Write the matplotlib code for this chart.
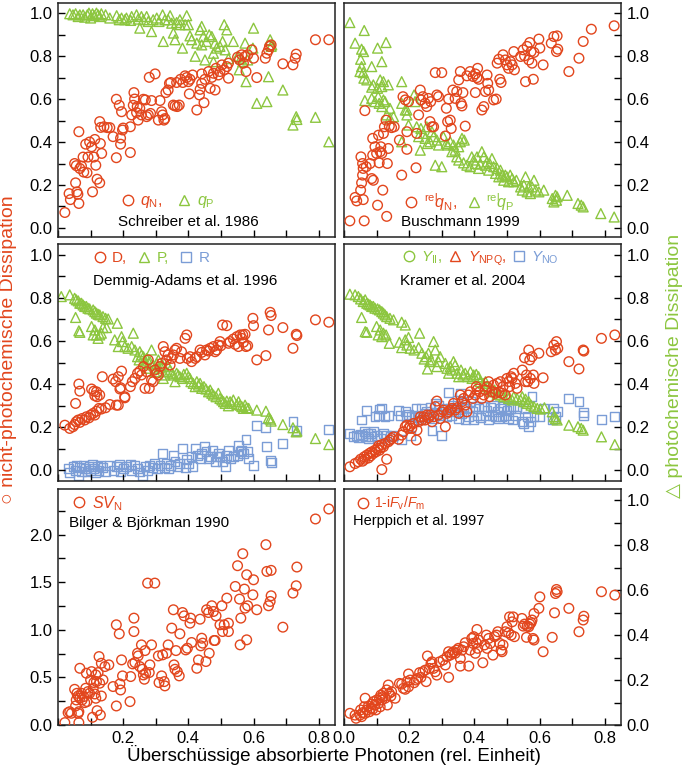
import numpy as np
import matplotlib
matplotlib.use("Agg")
import matplotlib.pyplot as plt
from matplotlib.lines import Line2D
from matplotlib.ticker import MultipleLocator

# ------------------------------------------------------------------
# Data (x = excess absorbed photons, rel. units)
# ------------------------------------------------------------------
schreiber_qn = np.array([
    (0.021, 0.072), (0.034, 0.16), (0.038, 0.132), (0.051, 0.30), (0.054, 0.21), (0.058, 0.168),
    (0.061, 0.157), (0.064, 0.114), (0.056, 0.29), (0.067, 0.277), (0.064, 0.448), (0.072, 0.288),
    (0.077, 0.33), (0.079, 0.26), (0.089, 0.257), (0.085, 0.39), (0.092, 0.33), (0.097, 0.40),
    (0.103, 0.378), (0.106, 0.168), (0.11, 0.33), (0.113, 0.412), (0.116, 0.292), (0.12, 0.227),
    (0.128, 0.21), (0.128, 0.495), (0.131, 0.468), (0.134, 0.347), (0.13, 0.393), (0.141, 0.471),
    (0.151, 0.467), (0.159, 0.467), (0.169, 0.425), (0.179, 0.327), (0.179, 0.599), (0.188, 0.571),
    (0.192, 0.418), (0.192, 0.39), (0.195, 0.541), (0.198, 0.456), (0.2, 0.465), (0.222, 0.471),
    (0.222, 0.351), (0.226, 0.526), (0.231, 0.571), (0.233, 0.63), (0.235, 0.60), (0.241, 0.537),
    (0.243, 0.565), (0.246, 0.502), (0.251, 0.557), (0.256, 0.526), (0.262, 0.599), (0.268, 0.596),
    (0.272, 0.518), (0.277, 0.526), (0.28, 0.701), (0.284, 0.533), (0.287, 0.593), (0.298, 0.717),
    (0.308, 0.502), (0.313, 0.593), (0.318, 0.541), (0.321, 0.526), (0.325, 0.502), (0.328, 0.509),
    (0.331, 0.63), (0.338, 0.642), (0.342, 0.673), (0.346, 0.677), (0.354, 0.572), (0.359, 0.568),
    (0.364, 0.677), (0.366, 0.565), (0.372, 0.572), (0.376, 0.692), (0.383, 0.677), (0.39, 0.708),
    (0.395, 0.70), (0.40, 0.681), (0.403, 0.624), (0.405, 0.692), (0.413, 0.712), (0.426, 0.549),
    (0.434, 0.619), (0.436, 0.645), (0.441, 0.673), (0.441, 0.717), (0.448, 0.583), (0.451, 0.692),
    (0.462, 0.728), (0.467, 0.65), (0.472, 0.701), (0.477, 0.72), (0.482, 0.642), (0.485, 0.743),
    (0.492, 0.712), (0.497, 0.728), (0.503, 0.759), (0.51, 0.736), (0.518, 0.751), (0.523, 0.697),
    (0.523, 0.767), (0.551, 0.795), (0.557, 0.782), (0.564, 0.806), (0.569, 0.767), (0.574, 0.798),
    (0.577, 0.728), (0.582, 0.806), (0.595, 0.829), (0.60, 0.79), (0.61, 0.70), (0.636, 0.79),
    (0.641, 0.813), (0.646, 0.829), (0.649, 0.845), (0.654, 0.852), (0.69, 0.764), (0.721, 0.759),
    (0.728, 0.79), (0.731, 0.809), (0.79, 0.876), (0.831, 0.876),
])

schreiber_qp = np.array([
    (0.036, 0.997), (0.046, 0.992), (0.054, 0.997), (0.062, 0.984), (0.067, 0.992), (0.077, 0.992),
    (0.082, 0.981), (0.09, 0.992), (0.095, 1.0), (0.1, 0.977), (0.106, 0.997), (0.111, 0.988),
    (0.118, 1.0), (0.123, 0.992), (0.128, 0.984), (0.133, 0.997), (0.146, 0.992), (0.159, 0.977),
    (0.18, 0.988), (0.188, 0.969), (0.195, 0.977), (0.205, 0.969), (0.21, 0.977), (0.223, 0.966),
    (0.226, 0.984), (0.241, 0.992), (0.246, 0.972), (0.251, 0.93), (0.256, 0.984), (0.262, 0.969),
    (0.272, 0.984), (0.277, 0.961), (0.287, 0.914), (0.292, 0.969), (0.303, 0.977), (0.31, 0.961),
    (0.321, 0.992), (0.323, 0.868), (0.328, 0.969), (0.338, 0.969), (0.344, 0.988), (0.349, 0.953),
    (0.354, 0.907), (0.359, 0.876), (0.364, 0.956), (0.374, 0.969), (0.374, 0.946), (0.382, 0.837),
    (0.39, 0.946), (0.395, 0.988), (0.40, 0.946), (0.405, 0.894), (0.41, 0.876), (0.421, 0.799),
    (0.426, 0.86), (0.436, 0.922), (0.441, 0.938), (0.446, 0.891), (0.441, 0.852), (0.451, 0.782),
    (0.456, 0.868), (0.464, 0.899), (0.472, 0.891), (0.477, 0.813), (0.482, 0.86), (0.477, 0.774),
    (0.487, 0.837), (0.497, 0.845), (0.505, 0.868), (0.51, 0.946), (0.513, 0.829), (0.518, 0.922),
    (0.523, 0.788), (0.538, 0.868), (0.551, 0.799), (0.556, 0.736), (0.561, 0.79), (0.567, 0.774),
    (0.574, 0.86), (0.577, 0.681), (0.582, 0.782), (0.598, 0.837), (0.60, 0.93), (0.61, 0.58),
    (0.641, 0.588), (0.646, 0.704), (0.651, 0.876), (0.654, 0.845), (0.656, 0.852), (0.69, 0.642),
    (0.721, 0.479), (0.731, 0.518), (0.733, 0.505), (0.79, 0.515), (0.831, 0.401),
])

buschmann_qn = np.array([
    (0.018, 0.033), (0.062, 0.033), (0.034, 0.142), (0.039, 0.126), (0.059, 0.132), (0.051, 0.176),
    (0.054, 0.21), (0.052, 0.331), (0.057, 0.30), (0.059, 0.277), (0.057, 0.246), (0.064, 0.546),
    (0.068, 0.285), (0.08, 0.30), (0.085, 0.23), (0.088, 0.339), (0.09, 0.222), (0.088, 0.417),
    (0.095, 0.378), (0.1, 0.347), (0.103, 0.106), (0.106, 0.432), (0.108, 0.303), (0.111, 0.355),
    (0.113, 0.378), (0.116, 0.347), (0.119, 0.176), (0.121, 0.44), (0.124, 0.471), (0.129, 0.502),
    (0.131, 0.054), (0.133, 0.30), (0.136, 0.37), (0.139, 0.474), (0.146, 0.467), (0.154, 0.471),
    (0.17, 0.409), (0.177, 0.246), (0.181, 0.611), (0.188, 0.596), (0.193, 0.448), (0.193, 0.366),
    (0.198, 0.588), (0.221, 0.28), (0.223, 0.44), (0.229, 0.526), (0.234, 0.642), (0.236, 0.596),
    (0.242, 0.611), (0.249, 0.58), (0.254, 0.565), (0.259, 0.603), (0.264, 0.495), (0.266, 0.588),
    (0.27, 0.471), (0.275, 0.471), (0.28, 0.723), (0.285, 0.619), (0.29, 0.611), (0.30, 0.723),
    (0.311, 0.428), (0.314, 0.557), (0.318, 0.495), (0.321, 0.60), (0.326, 0.502), (0.329, 0.463),
    (0.334, 0.642), (0.341, 0.603), (0.346, 0.635), (0.352, 0.689), (0.357, 0.728), (0.359, 0.58),
    (0.362, 0.568), (0.365, 0.63), (0.372, 0.474), (0.377, 0.708), (0.387, 0.728), (0.396, 0.705),
    (0.403, 0.717), (0.403, 0.63), (0.408, 0.70), (0.41, 0.743), (0.413, 0.692), (0.423, 0.549),
    (0.429, 0.565), (0.434, 0.635), (0.439, 0.712), (0.441, 0.673), (0.444, 0.642), (0.459, 0.596),
    (0.467, 0.60), (0.47, 0.767), (0.475, 0.785), (0.478, 0.692), (0.482, 0.677), (0.488, 0.806),
    (0.495, 0.782), (0.50, 0.759), (0.505, 0.743), (0.511, 0.774), (0.516, 0.759), (0.521, 0.821),
    (0.523, 0.736), (0.542, 0.798), (0.55, 0.829), (0.554, 0.801), (0.557, 0.681), (0.562, 0.845),
    (0.567, 0.782), (0.57, 0.863), (0.574, 0.821), (0.577, 0.767), (0.581, 0.692), (0.583, 0.817),
    (0.598, 0.879), (0.601, 0.837), (0.611, 0.759), (0.636, 0.86), (0.644, 0.891), (0.652, 0.821),
    (0.654, 0.894), (0.656, 0.832), (0.69, 0.728), (0.721, 0.79), (0.734, 0.868), (0.759, 0.925),
    (0.829, 0.941),
])

buschmann_qp = np.array([
    (0.018, 0.956), (0.062, 0.919), (0.034, 0.86), (0.054, 0.832), (0.06, 0.821), (0.051, 0.785),
    (0.054, 0.751), (0.049, 0.728), (0.059, 0.723), (0.061, 0.697), (0.085, 0.751), (0.07, 0.689),
    (0.09, 0.666), (0.103, 0.837), (0.129, 0.863), (0.116, 0.774), (0.085, 0.655), (0.103, 0.65),
    (0.111, 0.689), (0.116, 0.658), (0.121, 0.681), (0.136, 0.666), (0.064, 0.593), (0.085, 0.603),
    (0.095, 0.588), (0.105, 0.611), (0.108, 0.58), (0.116, 0.565), (0.121, 0.596), (0.126, 0.588),
    (0.131, 0.526), (0.141, 0.557), (0.141, 0.51), (0.152, 0.518), (0.177, 0.681), (0.177, 0.58),
    (0.177, 0.401), (0.188, 0.549), (0.193, 0.526), (0.198, 0.479), (0.193, 0.549), (0.215, 0.619),
    (0.218, 0.588), (0.223, 0.471), (0.229, 0.425), (0.234, 0.362), (0.236, 0.463), (0.244, 0.44),
    (0.254, 0.471), (0.249, 0.417), (0.256, 0.393), (0.264, 0.401), (0.27, 0.448), (0.275, 0.425),
    (0.28, 0.292), (0.285, 0.409), (0.29, 0.386), (0.30, 0.285), (0.305, 0.425), (0.314, 0.393),
    (0.318, 0.386), (0.326, 0.401), (0.331, 0.355), (0.336, 0.386), (0.341, 0.362), (0.346, 0.331),
    (0.352, 0.378), (0.357, 0.401), (0.362, 0.417), (0.369, 0.409), (0.352, 0.316), (0.367, 0.303),
    (0.377, 0.292), (0.387, 0.285), (0.392, 0.331), (0.398, 0.316), (0.403, 0.30), (0.408, 0.331),
    (0.413, 0.277), (0.418, 0.297), (0.423, 0.355), (0.429, 0.331), (0.434, 0.292), (0.439, 0.308),
    (0.444, 0.269), (0.447, 0.30), (0.454, 0.323), (0.459, 0.285), (0.465, 0.254), (0.47, 0.277),
    (0.475, 0.238), (0.48, 0.269), (0.485, 0.246), (0.49, 0.222), (0.495, 0.246), (0.50, 0.238),
    (0.505, 0.215), (0.51, 0.246), (0.516, 0.23), (0.521, 0.215), (0.529, 0.222), (0.542, 0.191),
    (0.547, 0.176), (0.552, 0.199), (0.557, 0.238), (0.562, 0.168), (0.567, 0.191), (0.572, 0.16),
    (0.577, 0.191), (0.583, 0.222), (0.588, 0.176), (0.598, 0.168), (0.613, 0.176), (0.639, 0.137),
    (0.644, 0.121), (0.649, 0.152), (0.652, 0.129), (0.654, 0.145), (0.685, 0.152), (0.718, 0.114),
    (0.728, 0.106), (0.734, 0.098), (0.788, 0.067), (0.829, 0.051),
])

demmig_d = np.array([
    (0.021, 0.209), (0.036, 0.194), (0.046, 0.202), (0.051, 0.212), (0.056, 0.225), (0.062, 0.233),
    (0.067, 0.222), (0.074, 0.24), (0.082, 0.233), (0.087, 0.248), (0.095, 0.243), (0.10, 0.256),
    (0.108, 0.264), (0.113, 0.256), (0.118, 0.274), (0.126, 0.287), (0.133, 0.284), (0.146, 0.29),
    (0.159, 0.305), (0.054, 0.31), (0.064, 0.40), (0.067, 0.367), (0.103, 0.377), (0.11, 0.367),
    (0.118, 0.364), (0.113, 0.346), (0.12, 0.341), (0.128, 0.349), (0.136, 0.434), (0.169, 0.423),
    (0.177, 0.411), (0.185, 0.434), (0.195, 0.46), (0.19, 0.377), (0.192, 0.383), (0.179, 0.302),
    (0.185, 0.302), (0.205, 0.341), (0.205, 0.336), (0.222, 0.388), (0.228, 0.411), (0.236, 0.426),
    (0.244, 0.45), (0.251, 0.46), (0.256, 0.442), (0.262, 0.481), (0.267, 0.38), (0.272, 0.457),
    (0.277, 0.512), (0.28, 0.38), (0.287, 0.419), (0.292, 0.411), (0.297, 0.465), (0.303, 0.45),
    (0.308, 0.442), (0.313, 0.481), (0.318, 0.496), (0.323, 0.574), (0.328, 0.55), (0.333, 0.512),
    (0.338, 0.535), (0.344, 0.488), (0.349, 0.519), (0.354, 0.535), (0.359, 0.558), (0.364, 0.566),
    (0.374, 0.519), (0.379, 0.55), (0.39, 0.612), (0.395, 0.628), (0.397, 0.519), (0.405, 0.527),
    (0.41, 0.504), (0.421, 0.519), (0.426, 0.527), (0.436, 0.558), (0.441, 0.547), (0.451, 0.535),
    (0.456, 0.558), (0.462, 0.553), (0.467, 0.566), (0.477, 0.574), (0.482, 0.55), (0.487, 0.558),
    (0.492, 0.581), (0.497, 0.597), (0.50, 0.578), (0.505, 0.674), (0.518, 0.671), (0.523, 0.589),
    (0.528, 0.597), (0.538, 0.609), (0.544, 0.584), (0.549, 0.62), (0.554, 0.574), (0.559, 0.628),
    (0.564, 0.612), (0.567, 0.628), (0.569, 0.594), (0.574, 0.631), (0.577, 0.574), (0.582, 0.578),
    (0.598, 0.705), (0.60, 0.671), (0.61, 0.512), (0.638, 0.532), (0.646, 0.651), (0.651, 0.733),
    (0.654, 0.718), (0.69, 0.662), (0.721, 0.566), (0.731, 0.631), (0.733, 0.625), (0.79, 0.698),
    (0.831, 0.687),
])

demmig_p = np.array([
    (0.01, 0.806), (0.036, 0.814), (0.051, 0.798), (0.056, 0.791), (0.062, 0.786), (0.067, 0.775),
    (0.072, 0.775), (0.077, 0.767), (0.082, 0.76), (0.087, 0.76), (0.092, 0.752), (0.097, 0.749),
    (0.108, 0.744), (0.113, 0.736), (0.118, 0.729), (0.123, 0.724), (0.128, 0.721), (0.138, 0.713),
    (0.146, 0.705), (0.154, 0.702), (0.054, 0.709), (0.064, 0.647), (0.067, 0.64), (0.103, 0.667),
    (0.108, 0.628), (0.113, 0.651), (0.118, 0.628), (0.123, 0.612), (0.128, 0.628), (0.133, 0.636),
    (0.138, 0.662), (0.149, 0.662), (0.182, 0.682), (0.174, 0.605), (0.185, 0.574), (0.195, 0.62),
    (0.198, 0.597), (0.205, 0.574), (0.215, 0.566), (0.226, 0.574), (0.231, 0.636), (0.236, 0.558),
    (0.244, 0.527), (0.249, 0.512), (0.251, 0.55), (0.256, 0.535), (0.262, 0.527), (0.264, 0.507),
    (0.267, 0.496), (0.272, 0.519), (0.277, 0.473), (0.282, 0.504), (0.287, 0.558), (0.292, 0.488),
    (0.297, 0.457), (0.303, 0.496), (0.308, 0.512), (0.31, 0.473), (0.315, 0.481), (0.321, 0.488),
    (0.323, 0.426), (0.328, 0.442), (0.333, 0.457), (0.338, 0.481), (0.344, 0.465), (0.349, 0.45),
    (0.354, 0.442), (0.359, 0.411), (0.364, 0.45), (0.369, 0.442), (0.374, 0.434), (0.382, 0.426),
    (0.386, 0.445), (0.395, 0.45), (0.40, 0.434), (0.405, 0.426), (0.408, 0.411), (0.415, 0.403),
    (0.421, 0.388), (0.426, 0.411), (0.431, 0.395), (0.436, 0.403), (0.441, 0.38), (0.448, 0.388),
    (0.454, 0.377), (0.462, 0.364), (0.467, 0.372), (0.472, 0.357), (0.477, 0.349), (0.485, 0.341),
    (0.492, 0.357), (0.497, 0.333), (0.503, 0.326), (0.508, 0.318), (0.513, 0.31), (0.518, 0.321),
    (0.523, 0.299), (0.528, 0.318), (0.533, 0.31), (0.538, 0.326), (0.549, 0.305), (0.554, 0.318),
    (0.559, 0.302), (0.564, 0.295), (0.569, 0.287), (0.574, 0.302), (0.579, 0.29), (0.585, 0.287),
    (0.61, 0.279), (0.638, 0.274), (0.646, 0.243), (0.651, 0.237), (0.654, 0.228), (0.69, 0.212),
    (0.721, 0.197), (0.731, 0.178), (0.733, 0.181), (0.79, 0.147), (0.831, 0.119),
])

demmig_r = np.array([
    (0.031, 0.008), (0.036, -0.011), (0.046, 0.016), (0.054, 0.0), (0.058, 0.023), (0.064, -0.023),
    (0.067, 0.011), (0.072, -0.005), (0.077, 0.023), (0.085, 0.008), (0.089, -0.008), (0.095, 0.016),
    (0.10, 0.0), (0.106, 0.026), (0.11, 0.008), (0.116, -0.011), (0.12, 0.016), (0.126, 0.0),
    (0.13, 0.023), (0.138, 0.011), (0.146, -0.005), (0.159, 0.023), (0.169, 0.0), (0.179, 0.016),
    (0.188, 0.026), (0.192, -0.008), (0.20, 0.008), (0.21, 0.016), (0.223, 0.026), (0.226, 0.0),
    (0.236, 0.023), (0.244, 0.008), (0.251, -0.008), (0.259, -0.026), (0.267, 0.016), (0.274, 0.0),
    (0.282, 0.023), (0.29, 0.011), (0.297, 0.031), (0.305, 0.008), (0.313, 0.023), (0.321, 0.078),
    (0.326, 0.011), (0.333, 0.031), (0.338, 0.008), (0.346, 0.023), (0.354, 0.07), (0.359, 0.039),
    (0.366, 0.016), (0.374, 0.031), (0.382, 0.101), (0.39, 0.011), (0.395, 0.051), (0.40, 0.031),
    (0.408, 0.062), (0.413, 0.016), (0.421, 0.101), (0.428, 0.07), (0.436, 0.054), (0.441, 0.078),
    (0.449, 0.109), (0.454, 0.085), (0.462, 0.054), (0.469, 0.062), (0.474, 0.093), (0.482, 0.039),
    (0.487, 0.062), (0.492, 0.078), (0.497, 0.062), (0.505, 0.039), (0.513, 0.016), (0.518, 0.07),
    (0.523, 0.093), (0.528, 0.054), (0.538, 0.062), (0.551, 0.07), (0.554, 0.116), (0.559, 0.085),
    (0.564, 0.093), (0.569, 0.078), (0.577, 0.144), (0.582, 0.088), (0.585, 0.054), (0.60, 0.023),
    (0.61, 0.206), (0.638, 0.197), (0.641, 0.109), (0.651, 0.047), (0.654, 0.036), (0.69, 0.124),
    (0.721, 0.228), (0.731, 0.186), (0.831, 0.191),
])

kramer_yii = np.array([
    (0.018, 0.817), (0.034, 0.814), (0.044, 0.806), (0.051, 0.795), (0.059, 0.783), (0.065, 0.791),
    (0.07, 0.775), (0.075, 0.771), (0.08, 0.767), (0.085, 0.76), (0.09, 0.76), (0.095, 0.752),
    (0.103, 0.749), (0.109, 0.744), (0.116, 0.736), (0.121, 0.729), (0.126, 0.721), (0.131, 0.713),
    (0.141, 0.705), (0.152, 0.698), (0.177, 0.687), (0.188, 0.674), (0.054, 0.709), (0.065, 0.643),
    (0.07, 0.64), (0.10, 0.667), (0.105, 0.628), (0.111, 0.651), (0.116, 0.62), (0.121, 0.636),
    (0.129, 0.628), (0.139, 0.589), (0.17, 0.594), (0.177, 0.569), (0.188, 0.605), (0.193, 0.581),
    (0.198, 0.616), (0.203, 0.566), (0.215, 0.558), (0.229, 0.569), (0.232, 0.636), (0.239, 0.543),
    (0.246, 0.516), (0.252, 0.527), (0.259, 0.543), (0.263, 0.504), (0.256, 0.47), (0.267, 0.512),
    (0.275, 0.597), (0.28, 0.558), (0.285, 0.481), (0.29, 0.504), (0.295, 0.527), (0.311, 0.496),
    (0.316, 0.473), (0.321, 0.45), (0.326, 0.481), (0.331, 0.465), (0.336, 0.504), (0.341, 0.488),
    (0.347, 0.45), (0.352, 0.434), (0.359, 0.465), (0.365, 0.442), (0.372, 0.45), (0.38, 0.434),
    (0.388, 0.457), (0.393, 0.426), (0.398, 0.442), (0.406, 0.445), (0.413, 0.434), (0.418, 0.411),
    (0.427, 0.403), (0.434, 0.411), (0.439, 0.388), (0.447, 0.38), (0.454, 0.364), (0.462, 0.372),
    (0.47, 0.352), (0.48, 0.349), (0.49, 0.341), (0.50, 0.349), (0.505, 0.333), (0.516, 0.326),
    (0.521, 0.341), (0.531, 0.333), (0.542, 0.326), (0.547, 0.341), (0.552, 0.318), (0.557, 0.33),
    (0.562, 0.31), (0.567, 0.318), (0.574, 0.302), (0.583, 0.295), (0.593, 0.287), (0.603, 0.284),
    (0.615, 0.29), (0.639, 0.271), (0.644, 0.248), (0.649, 0.24), (0.654, 0.233), (0.69, 0.209),
    (0.718, 0.202), (0.728, 0.194), (0.734, 0.186), (0.79, 0.155), (0.831, 0.119),
])

kramer_ynpq = np.array([
    (0.018, 0.016), (0.034, 0.031), (0.044, 0.039), (0.051, 0.051), (0.057, 0.042), (0.062, 0.062),
    (0.064, 0.051), (0.07, 0.07), (0.075, 0.057), (0.078, 0.078), (0.082, 0.067), (0.085, 0.085),
    (0.09, 0.078), (0.095, 0.093), (0.098, 0.085), (0.103, 0.101), (0.106, 0.113), (0.109, 0.093),
    (0.113, 0.104), (0.116, 0.119), (0.121, 0.109), (0.126, 0.124), (0.131, 0.051), (0.136, 0.132),
    (0.141, 0.14), (0.146, 0.147), (0.152, 0.155), (0.116, 0.003), (0.167, 0.144), (0.177, 0.163),
    (0.182, 0.178), (0.188, 0.202), (0.193, 0.209), (0.198, 0.194), (0.203, 0.206), (0.208, 0.194),
    (0.213, 0.217), (0.222, 0.14), (0.224, 0.186), (0.229, 0.225), (0.234, 0.248), (0.239, 0.233),
    (0.244, 0.248), (0.249, 0.233), (0.254, 0.256), (0.259, 0.243), (0.265, 0.256), (0.27, 0.225),
    (0.275, 0.248), (0.28, 0.295), (0.285, 0.321), (0.29, 0.256), (0.295, 0.24), (0.30, 0.271),
    (0.305, 0.279), (0.311, 0.202), (0.316, 0.264), (0.321, 0.271), (0.326, 0.279), (0.331, 0.287),
    (0.336, 0.31), (0.341, 0.279), (0.347, 0.29), (0.352, 0.264), (0.357, 0.349), (0.362, 0.318),
    (0.367, 0.333), (0.372, 0.302), (0.377, 0.271), (0.382, 0.349), (0.388, 0.364), (0.396, 0.333),
    (0.403, 0.349), (0.406, 0.388), (0.41, 0.377), (0.416, 0.364), (0.423, 0.333), (0.429, 0.349),
    (0.434, 0.372), (0.439, 0.388), (0.444, 0.411), (0.447, 0.341), (0.454, 0.364), (0.459, 0.395),
    (0.465, 0.357), (0.47, 0.403), (0.475, 0.364), (0.48, 0.411), (0.485, 0.357), (0.488, 0.388),
    (0.495, 0.349), (0.50, 0.426), (0.505, 0.411), (0.508, 0.388), (0.513, 0.434), (0.516, 0.426),
    (0.521, 0.45), (0.526, 0.403), (0.531, 0.38), (0.547, 0.465), (0.554, 0.522), (0.557, 0.411),
    (0.56, 0.442), (0.564, 0.411), (0.567, 0.558), (0.57, 0.512), (0.572, 0.426), (0.577, 0.527),
    (0.581, 0.442), (0.583, 0.403), (0.598, 0.543), (0.611, 0.429), (0.636, 0.55), (0.644, 0.581),
    (0.649, 0.558), (0.652, 0.597), (0.656, 0.566), (0.69, 0.504), (0.721, 0.47), (0.734, 0.558),
    (0.736, 0.553), (0.79, 0.612), (0.831, 0.628),
])

kramer_yno = np.array([
    (0.018, 0.171), (0.029, 0.155), (0.039, 0.163), (0.044, 0.15), (0.049, 0.166), (0.054, 0.233),
    (0.057, 0.163), (0.062, 0.178), (0.065, 0.155), (0.068, 0.279), (0.072, 0.171), (0.075, 0.147),
    (0.08, 0.171), (0.085, 0.155), (0.09, 0.178), (0.095, 0.248), (0.10, 0.163), (0.106, 0.256),
    (0.109, 0.284), (0.113, 0.147), (0.116, 0.287), (0.121, 0.171), (0.126, 0.248), (0.131, 0.163),
    (0.136, 0.256), (0.141, 0.155), (0.152, 0.163), (0.167, 0.279), (0.172, 0.256), (0.177, 0.144),
    (0.188, 0.274), (0.193, 0.248), (0.198, 0.259), (0.203, 0.163), (0.208, 0.248), (0.215, 0.256),
    (0.221, 0.287), (0.229, 0.243), (0.234, 0.233), (0.239, 0.287), (0.244, 0.248), (0.249, 0.264),
    (0.254, 0.274), (0.259, 0.248), (0.265, 0.29), (0.27, 0.186), (0.275, 0.24), (0.28, 0.31),
    (0.285, 0.264), (0.29, 0.302), (0.295, 0.256), (0.30, 0.163), (0.305, 0.287), (0.311, 0.271),
    (0.316, 0.248), (0.321, 0.361), (0.326, 0.287), (0.331, 0.256), (0.336, 0.302), (0.341, 0.271),
    (0.347, 0.326), (0.352, 0.24), (0.357, 0.357), (0.362, 0.264), (0.367, 0.295), (0.372, 0.233),
    (0.377, 0.287), (0.382, 0.248), (0.388, 0.318), (0.393, 0.271), (0.398, 0.233), (0.403, 0.295),
    (0.408, 0.256), (0.413, 0.287), (0.418, 0.243), (0.429, 0.295), (0.434, 0.256), (0.439, 0.279),
    (0.444, 0.233), (0.449, 0.29), (0.454, 0.256), (0.459, 0.302), (0.465, 0.248), (0.47, 0.271),
    (0.475, 0.24), (0.48, 0.287), (0.485, 0.248), (0.49, 0.295), (0.495, 0.256), (0.50, 0.279),
    (0.505, 0.24), (0.51, 0.287), (0.516, 0.233), (0.521, 0.295), (0.526, 0.256), (0.531, 0.287),
    (0.547, 0.225), (0.552, 0.217), (0.557, 0.287), (0.562, 0.248), (0.567, 0.202), (0.572, 0.225),
    (0.577, 0.341), (0.583, 0.248), (0.601, 0.248), (0.613, 0.287), (0.639, 0.233), (0.644, 0.287),
    (0.649, 0.248), (0.654, 0.271), (0.69, 0.333), (0.721, 0.321), (0.734, 0.268), (0.736, 0.256),
    (0.79, 0.237), (0.831, 0.248),
])

bilger_svn = np.array([
    (0.021, 0.025), (0.031, 0.13), (0.036, 0.14), (0.041, 0.123), (0.051, 0.375), (0.054, 0.20),
    (0.056, 0.263), (0.058, 0.333), (0.062, 0.305), (0.062, 0.123), (0.064, 0.14), (0.064, 0.025),
    (0.067, 0.596), (0.067, 0.281), (0.072, 0.333), (0.074, 0.263), (0.079, 0.298), (0.082, 0.235),
    (0.085, 0.386), (0.087, 0.544), (0.089, 0.246), (0.092, 0.351), (0.097, 0.333), (0.10, 0.474),
    (0.103, 0.561), (0.106, 0.081), (0.108, 0.386), (0.11, 0.446), (0.113, 0.326), (0.116, 0.526),
    (0.116, 0.281), (0.118, 0.456), (0.12, 0.151), (0.123, 0.551), (0.126, 0.719), (0.128, 0.439),
    (0.13, 0.105), (0.133, 0.649), (0.133, 0.305), (0.138, 0.474), (0.144, 0.614), (0.156, 0.632),
    (0.169, 0.404), (0.179, 1.053), (0.179, 0.20), (0.188, 0.958), (0.19, 0.432), (0.192, 0.368),
    (0.195, 0.684), (0.198, 0.516), (0.221, 0.246), (0.223, 0.509), (0.229, 0.642), (0.233, 1.123),
    (0.233, 0.982), (0.236, 0.656), (0.244, 0.754), (0.246, 0.726), (0.251, 0.614), (0.256, 0.842),
    (0.259, 0.586), (0.262, 0.526), (0.265, 0.481), (0.267, 0.782), (0.269, 0.544), (0.275, 1.491),
    (0.28, 0.551), (0.282, 0.632), (0.287, 0.842), (0.297, 1.491), (0.308, 0.726), (0.31, 0.446),
    (0.318, 0.516), (0.321, 0.737), (0.326, 0.456), (0.328, 0.411), (0.333, 0.754), (0.338, 0.842),
    (0.349, 1.018), (0.354, 1.211), (0.356, 0.632), (0.359, 0.586), (0.362, 0.782), (0.366, 0.561),
    (0.372, 0.516), (0.374, 0.958), (0.382, 1.182), (0.387, 1.147), (0.392, 0.789), (0.397, 0.807),
    (0.405, 1.07), (0.407, 1.123), (0.41, 0.867), (0.426, 0.596), (0.431, 0.684), (0.436, 1.112),
    (0.438, 0.832), (0.441, 0.912), (0.444, 0.86), (0.454, 0.667), (0.456, 1.211), (0.462, 1.182),
    (0.464, 0.754), (0.472, 1.253), (0.477, 1.193), (0.479, 0.888), (0.482, 0.888), (0.485, 1.147),
    (0.497, 1.053), (0.503, 1.253), (0.505, 0.982), (0.51, 1.053), (0.518, 1.333), (0.523, 0.982),
    (0.523, 1.07), (0.544, 1.456), (0.551, 1.674), (0.557, 1.323), (0.559, 0.842), (0.561, 1.123),
    (0.567, 1.80), (0.572, 1.428), (0.574, 1.228), (0.579, 1.579), (0.579, 0.895), (0.582, 1.253),
    (0.598, 1.368), (0.60, 1.526), (0.61, 1.211), (0.638, 1.895), (0.641, 1.614), (0.646, 1.253),
    (0.651, 1.298), (0.654, 1.625), (0.654, 1.358), (0.69, 1.028), (0.721, 1.386), (0.731, 1.463),
    (0.733, 1.66), (0.79, 2.165), (0.831, 2.27),
])

herppich_fvfm = np.array([
    (0.018, 0.052), (0.034, 0.044), (0.037, 0.03), (0.049, 0.044), (0.051, 0.067), (0.054, 0.037),
    (0.057, 0.055), (0.062, 0.081), (0.065, 0.119), (0.065, 0.052), (0.07, 0.067), (0.075, 0.084),
    (0.078, 0.059), (0.082, 0.074), (0.085, 0.093), (0.088, 0.07), (0.09, 0.104), (0.095, 0.089),
    (0.098, 0.067), (0.10, 0.111), (0.106, 0.096), (0.109, 0.119), (0.111, 0.081), (0.113, 0.133),
    (0.116, 0.111), (0.119, 0.126), (0.121, 0.141), (0.126, 0.119), (0.131, 0.156), (0.133, 0.089),
    (0.136, 0.178), (0.139, 0.141), (0.144, 0.129), (0.146, 0.148), (0.157, 0.119), (0.17, 0.185),
    (0.177, 0.182), (0.182, 0.163), (0.188, 0.159), (0.193, 0.193), (0.198, 0.227), (0.198, 0.17),
    (0.203, 0.20), (0.215, 0.188), (0.221, 0.20), (0.226, 0.207), (0.232, 0.233), (0.236, 0.212),
    (0.242, 0.237), (0.249, 0.244), (0.252, 0.193), (0.256, 0.307), (0.262, 0.252), (0.267, 0.274),
    (0.27, 0.281), (0.275, 0.252), (0.28, 0.237), (0.285, 0.222), (0.293, 0.281), (0.304, 0.289),
    (0.311, 0.267), (0.316, 0.304), (0.321, 0.326), (0.321, 0.212), (0.326, 0.311), (0.331, 0.319),
    (0.336, 0.326), (0.341, 0.319), (0.346, 0.333), (0.351, 0.341), (0.357, 0.296), (0.357, 0.262),
    (0.362, 0.333), (0.367, 0.348), (0.372, 0.366), (0.383, 0.262), (0.387, 0.333), (0.392, 0.385),
    (0.396, 0.363), (0.398, 0.393), (0.403, 0.319), (0.406, 0.366), (0.408, 0.425), (0.41, 0.341),
    (0.413, 0.378), (0.426, 0.277), (0.431, 0.356), (0.437, 0.40), (0.439, 0.341), (0.444, 0.385),
    (0.449, 0.363), (0.457, 0.311), (0.462, 0.393), (0.468, 0.40), (0.472, 0.415), (0.478, 0.363),
    (0.482, 0.333), (0.485, 0.326), (0.488, 0.356), (0.495, 0.415), (0.50, 0.437), (0.505, 0.41),
    (0.508, 0.481), (0.513, 0.40), (0.516, 0.459), (0.519, 0.481), (0.523, 0.393), (0.546, 0.474),
    (0.55, 0.44), (0.554, 0.449), (0.56, 0.39), (0.562, 0.44), (0.567, 0.437), (0.57, 0.449),
    (0.574, 0.455), (0.577, 0.467), (0.58, 0.385), (0.583, 0.496), (0.583, 0.378), (0.598, 0.519),
    (0.601, 0.57), (0.611, 0.326), (0.639, 0.39), (0.646, 0.499), (0.649, 0.585), (0.652, 0.603),
    (0.654, 0.593), (0.69, 0.519), (0.721, 0.415), (0.734, 0.467), (0.736, 0.484), (0.79, 0.593),
    (0.831, 0.578),
])

x_ticks_left = [0.2, 0.4, 0.6, 0.8]
x_ticks_right = [0.0, 0.2, 0.4, 0.6, 0.8]

RED = "#E2461D"
GREEN = "#8CC63F"
BLUE = "#7B9DD6"

plt.rcParams.update({
    "font.family": ["Liberation Sans", "DejaVu Sans"],
    "mathtext.fontset": "custom",
    "mathtext.rm": "Liberation Sans",
    "mathtext.it": "Liberation Sans:italic",
    "mathtext.bf": "Liberation Sans:bold",
    "font.size": 12,
    "axes.linewidth": 1.1,
    "axes.edgecolor": "#222222",
})

MS = 48
LW = 1.0


def circles(ax, d, color=RED):
    ax.scatter(d[:, 0], d[:, 1], s=MS, facecolors="none", edgecolors=color, linewidths=LW, marker="o", zorder=3)


def triangles(ax, d, color=GREEN):
    ax.scatter(d[:, 0], d[:, 1], s=MS * 1.05, facecolors="none", edgecolors=color, linewidths=LW, marker="^", zorder=2)


def squares(ax, d, color=BLUE):
    ax.scatter(d[:, 0], d[:, 1], s=MS * 0.85, facecolors="none", edgecolors=color, linewidths=LW, marker="s", zorder=1)


def handle(marker, color):
    ms = 7.5 if marker != "s" else 6.5
    return Line2D([], [], ls="none", marker=marker, ms=ms, mfc="none", mec=color, mew=LW)


def panel_legend(ax, entries, x, y, fs=11.5, colsp=0.9):
    hs = [handle(m, c) for m, c, _ in entries]
    labels = [t for _, _, t in entries]
    leg = ax.legend(hs, labels, loc="center left", bbox_to_anchor=(x, y), ncol=len(entries),
                    frameon=False, fontsize=fs, handlelength=0.9, handletextpad=0.35,
                    columnspacing=colsp, borderpad=0, borderaxespad=0)
    for txt, (_, c, _) in zip(leg.get_texts(), entries):
        txt.set_color(c)


fig = plt.figure(figsize=(6.85, 7.71), dpi=100)

W, H = 685, 771
col_x = [58, 344]
col_w = 277
rows = [(3, 237), (244, 481), (489, 725)]

axs = []
for r, (top, bot) in enumerate(rows):
    row = []
    for c, x0 in enumerate(col_x):
        ax = fig.add_axes([x0 / W, 1 - bot / H, col_w / W, (bot - top) / H])
        row.append(ax)
    axs.append(row)

for r in range(3):
    for c in range(2):
        ax = axs[r][c]
        ax.set_xlim(0, 0.85)
        ax.xaxis.set_minor_locator(MultipleLocator(0.1))
        ax.tick_params(which="both", direction="in", length=5, width=1.0, labelsize=12, pad=4)
        if c == 0:
            ax.set_xticks(x_ticks_left)
        else:
            ax.set_xticks(x_ticks_right)
            ax.yaxis.tick_right()
        if r < 2:
            ax.tick_params(axis="x", labelbottom=False)
            ax.set_ylim(-0.05, 1.05)
            ax.set_yticks([0.0, 0.2, 0.4, 0.6, 0.8, 1.0])
            ax.yaxis.set_minor_locator(MultipleLocator(0.1))
        ax.xaxis.set_major_formatter(plt.FormatStrFormatter("%.1f"))
        ax.yaxis.set_major_formatter(plt.FormatStrFormatter("%.1f"))

axs[0][0].set_ylim(-0.042, 1.047)
axs[0][1].set_ylim(-0.042, 1.047)

axs[2][0].set_ylim(0, 2.48)
axs[2][0].set_yticks([0.0, 0.5, 1.0, 1.5, 2.0])
axs[2][0].yaxis.set_minor_locator(MultipleLocator(0.25))
axs[2][1].set_ylim(0, 1.05)
axs[2][1].set_yticks([0.0, 0.2, 0.4, 0.6, 0.8, 1.0])
axs[2][1].yaxis.set_minor_locator(MultipleLocator(0.1))

# (1) Schreiber
ax = axs[0][0]
triangles(ax, schreiber_qp)
circles(ax, schreiber_qn)
panel_legend(ax, [("o", RED, r"$q_\mathrm{N}$,"), ("^", GREEN, r"$q_\mathrm{P}$")], 0.225, 0.15)
ax.text(0.47, 0.064, "Schreiber et al. 1986", transform=ax.transAxes, ha="center", va="center", fontsize=11)

# (2) Buschmann
ax = axs[0][1]
triangles(ax, buschmann_qp)
circles(ax, buschmann_qn)
panel_legend(ax, [("o", RED, r"$^{\mathrm{rel}}\!q_\mathrm{N}$,"), ("^", GREEN, r"$^{\mathrm{rel}}\!q_\mathrm{P}$")],
             0.215, 0.15, colsp=0.6)
ax.text(0.42, 0.064, "Buschmann 1999", transform=ax.transAxes, ha="center", va="center", fontsize=11)

# (3) Demmig-Adams
ax = axs[1][0]
squares(ax, demmig_r)
triangles(ax, demmig_p)
circles(ax, demmig_d)
panel_legend(ax, [("o", RED, "D,"), ("^", GREEN, "P,"), ("s", BLUE, "R")], 0.125, 0.94, fs=11, colsp=0.7)
ax.text(0.46, 0.845, "Demmig-Adams et al. 1996", transform=ax.transAxes, ha="center", va="center", fontsize=11)

# (4) Kramer
ax = axs[1][1]
squares(ax, kramer_yno)
triangles(ax, kramer_yii)
circles(ax, kramer_ynpq)
panel_legend(ax, [("o", GREEN, r"$Y_\mathrm{II}$,"), ("^", RED, r"$Y_\mathrm{NPQ}$,"), ("s", BLUE, r"$Y_\mathrm{NO}$")],
             0.21, 0.937, fs=11, colsp=0.4)
ax.text(0.43, 0.845, "Kramer et al. 2004", transform=ax.transAxes, ha="center", va="center", fontsize=11)

# (5) Bilger & Björkman
ax = axs[2][0]
circles(ax, bilger_svn)
panel_legend(ax, [("o", RED, r"$SV_\mathrm{N}$")], 0.05, 0.94)
ax.text(0.33, 0.855, "Bilger & Björkman 1990", transform=ax.transAxes, ha="center", va="center", fontsize=11)

# (6) Herppich
ax = axs[2][1]
circles(ax, herppich_fvfm)
panel_legend(ax, [("o", RED, r"1-i$F_\mathrm{v}$/$F_\mathrm{m}$")], 0.045, 0.94, fs=10)
ax.text(0.27, 0.865, "Herppich et al. 1997", transform=ax.transAxes, ha="center", va="center", fontsize=10.5)

fig.text(0.013, 1 - 504 / H, "○ nicht-photochemische Dissipation", rotation=90, color=RED,
         ha="center", va="bottom", fontsize=14)
fig.text(0.984, 1 - 498 / H, "△ photochemische Dissipation", rotation=90, color=GREEN,
         ha="center", va="bottom", fontsize=14, family=["Liberation Sans", "DejaVu Sans"])
fig.text(0.488, 1 - 755 / H, "Überschüssige absorbierte Photonen (rel. Einheit)", ha="center", va="center",
         fontsize=13.5)

fig.savefig("out.png", dpi=100)
